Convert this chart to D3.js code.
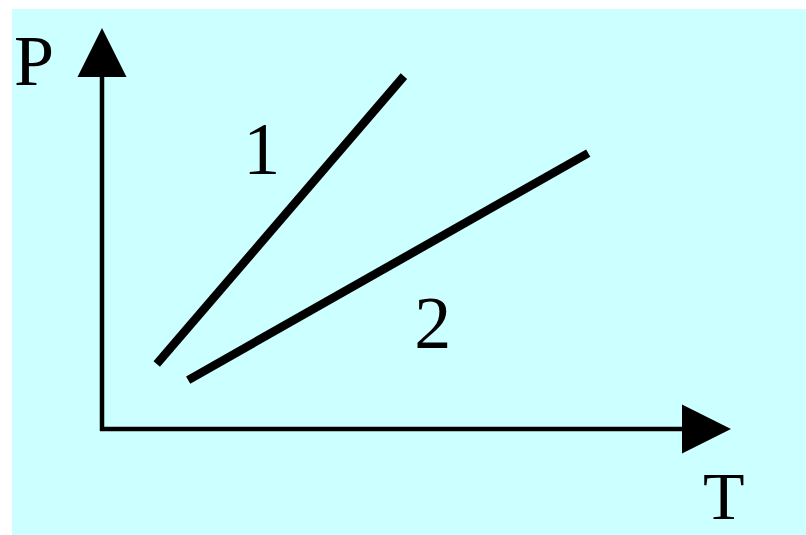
<!DOCTYPE html>
<html>
<head>
<meta charset="utf-8">
<script src="https://cdn.jsdelivr.net/npm/d3@7"></script>
<style>
  html, body { margin: 0; padding: 0; background: #fff; overflow: hidden; }
  svg { display: block; }
  text { font-family: "Liberation Serif", "DejaVu Serif", serif; fill: #000; }
</style>
</head>
<body>
<script>
// 数据：两条等容线的端点（T, P），坐标轴范围为 0..10
var seriesNames = ["1", "2"];
var line1 = [[0.87, 1.62], [4.80, 8.80]];
var line2 = [[1.37, 1.22], [7.73, 6.88]];
var labelPos = [[2.54, 6.37], [5.26, 2.02]]; // 曲线编号的位置
var axisNames = ["T", "P"];

const width = 806, height = 535;

var svg = d3.select("body").append("svg")
  .attr("width", width)
  .attr("height", height);

// 青色背景（左、上留白边）
svg.append("rect")
  .attr("x", 12).attr("y", 9)
  .attr("width", width).attr("height", height)
  .attr("fill", "#ccffff");

var x = d3.scaleLinear().domain([0, 10]).range([102, 731]);
var y = d3.scaleLinear().domain([0, 10]).range([429, 28]);

// 坐标轴
var g = svg.append("g");
g.append("line")
  .attr("x1", x(0)).attr("y1", y(0) + 2)
  .attr("x2", x(0)).attr("y2", y(8.8))
  .attr("stroke", "#000").attr("stroke-width", 4.5);
g.append("line")
  .attr("x1", x(0) - 2).attr("y1", y(0))
  .attr("x2", x(9.3)).attr("y2", y(0))
  .attr("stroke", "#000").attr("stroke-width", 4.5);

// 箭头
var ah = 49, aw = 24.5;
g.append("path")
  .attr("d", `M${x(0)},${y(10)} L${x(0) + aw},${y(10) + ah} L${x(0) - aw},${y(10) + ah} Z`)
  .attr("fill", "#000");
g.append("path")
  .attr("d", `M${x(10)},${y(0)} L${x(10) - ah},${y(0) - aw} L${x(10) - ah},${y(0) + aw} Z`)
  .attr("fill", "#000");

// 两条直线
var lineGen = d3.line().x(d => x(d[0])).y(d => y(d[1]));
[line1, line2].forEach(function (d) {
  g.append("path")
    .attr("d", lineGen(d))
    .attr("fill", "none")
    .attr("stroke", "#000")
    .attr("stroke-width", 8.5);
});

// 编号
seriesNames.forEach(function (name, i) {
  g.append("text")
    .attr("x", x(labelPos[i][0]))
    .attr("y", y(labelPos[i][1]))
    .attr("text-anchor", "middle")
    .attr("font-size", 74)
    .text(name);
});

// 轴名称
g.append("text")
  .attr("x", 14).attr("y", 85)
  .attr("font-size", 72)
  .text(axisNames[1]);
g.append("text")
  .attr("x", 703).attr("y", 519)
  .attr("font-size", 68)
  .text(axisNames[0]);
</script>
</body>
</html>
